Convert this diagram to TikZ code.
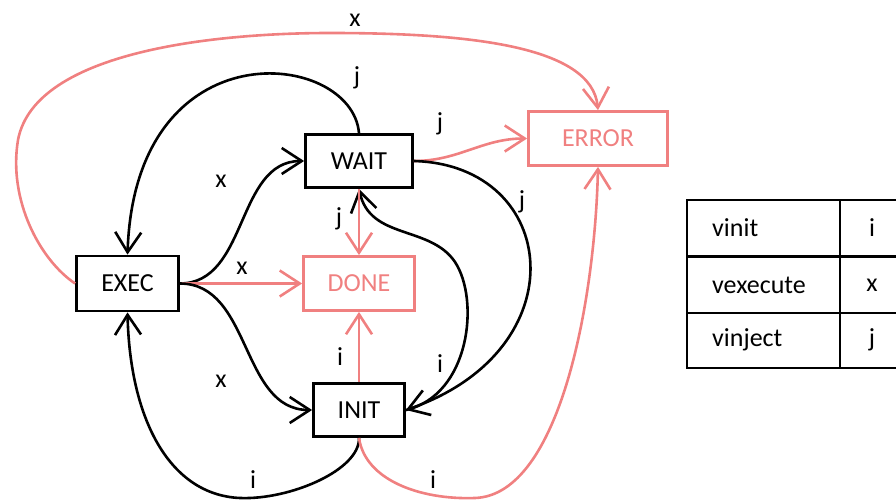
\documentclass[tikz,border=0pt]{standalone}
\usepackage{fontspec}
\setmainfont{Carlito}
\usetikzlibrary{arrows.meta}
\definecolor{pinkc}{RGB}{240,128,128}
\begin{document}
\begin{tikzpicture}[x=1pt,y=-1pt,
  every node/.style={font=\fontsize{26}{30}\selectfont},
  state/.style={draw=black, line width=2.8pt, inner sep=0pt},
  pstate/.style={draw=pinkc, text=pinkc, line width=2.8pt, inner sep=0pt},
  tip/.style={-{Straight Barb[length=20pt,width=26pt]}},
  bedge/.style={tip, draw=black, line width=2.6pt},
  pedge/.style={tip, draw=pinkc, line width=2.6pt},
  lbl/.style={inner sep=0pt},
  tline/.style={line width=2.8pt, line cap=rect}]
\useasboundingbox (0,0) rectangle (896,500);

% states
\node[state, minimum width=102pt, minimum height=55pt] (exec) at (127.5,283.5) {EXEC};
\node[state, minimum width=107pt, minimum height=53pt] (wait) at (359,161) {WAIT};
\node[pstate, minimum width=111pt, minimum height=54pt] (done) at (359,283.5) {DONE};
\node[state, minimum width=91pt, minimum height=53pt] (init) at (359,410) {INIT};
\node[pstate, minimum width=139pt, minimum height=54pt] (error) at (598,138.5) {ERROR};

% edges
\draw[pedge] (exec.west) .. controls (40,260) and (8,200) .. (18,140)
  .. controls (35,50) and (220,33) .. (330,33)
  .. controls (465,33) and (592,45) .. (error.north);
\draw[bedge] (wait.north) .. controls (352,50) and (135,25) .. (exec.north);
\draw[bedge] (exec.east) to[out=0,in=180] (wait.west);
\draw[pedge] (exec.east) -- (done.west);
\draw[bedge] (exec.east) to[out=0,in=180] (init.west);
\draw[bedge] (init.south) .. controls (360,470) and (290,500) .. (240,498)
  .. controls (170,495) and (130,420) .. (exec.south);
\draw[pedge] (init.south) .. controls (365,480) and (420,500) .. (475,498)
  .. controls (560,495) and (595,300) .. (error.south);
\draw[pedge] (wait.east) to[out=0,in=180] (error.west);
\draw[bedge] (wait.east) .. controls (560,165) and (580,350) .. (init.east);
\draw[bedge] (init.east) .. controls (470,395) and (480,300) .. (455,262)
  .. controls (430,225) and (370,240) .. (wait.south);
\draw[pedge] (wait.south) -- (done.north);
\draw[pedge] (init.north) -- (done.south);

% labels
\node[lbl] (l1) at (355,20) {x};
\node[lbl] (l2) at (357,78) {j};
\node[lbl] (l3) at (440,124) {j};
\node[lbl] (l4) at (221,181) {x};
\node[lbl] (l5) at (522,202) {j};
\node[lbl] (l6) at (339,219) {j};
\node[lbl] (l7) at (242,268) {x};
\node[lbl] (l8) at (340,357) {i};
\node[lbl] (l9) at (440,364) {i};
\node[lbl] (l10) at (221,381) {x};
\node[lbl] (l11) at (253,480) {i};
\node[lbl] (l12) at (433,480) {i};

% table
\draw[tline] (687,200) -- (896,200);
\draw[tline] (687,256.5) -- (896,256.5);
\draw[tline] (687,313) -- (896,313);
\draw[tline] (687,368) -- (896,368);
\draw[tline] (687,200) -- (687,368);
\draw[tline] (840,200) -- (840,368);
\node[anchor=west, inner sep=0pt] (t1) at (712,228) {vinit};
\node[anchor=west, inner sep=0pt] (t2) at (712,285) {vexecute};
\node[anchor=west, inner sep=0pt] (t3) at (712,340) {vinject};
\node[lbl] (t4) at (872,228) {i};
\node[lbl] (t5) at (872,285) {x};
\node[lbl] (t6) at (872,340) {j};
\end{tikzpicture}
\end{document}
